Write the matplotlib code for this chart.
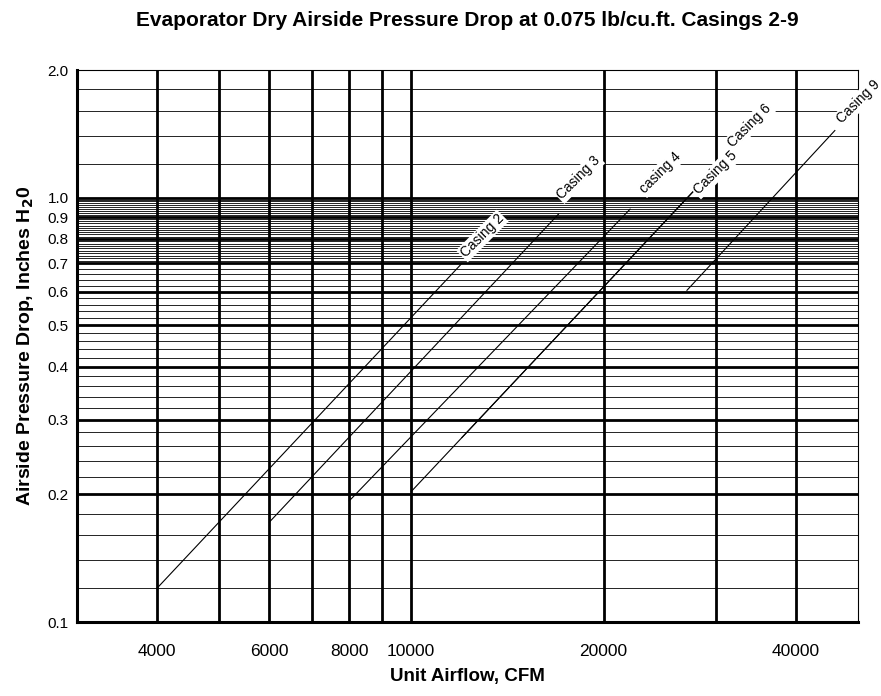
import numpy as np
import matplotlib
matplotlib.use("Agg")
import matplotlib.pyplot as plt

plt.rcParams["font.family"] = ["Liberation Sans", "DejaVu Sans"]

# casing lines: start / end airflow (CFM) and pressure drop (in. H2O)
casings = ["Casing 2", "Casing 3", "casing 4", "Casing 5", "Casing 6", "Casing 9"]
cfm_start = [4000, 6000, 8000, 10000, 12000, 27000]
cfm_end = [12000, 17000, 22000, 27700, 30000, 46000]
dp_start = [0.12, 0.172, 0.193, 0.203, 0.272, 0.605]
dp_end = [0.70, 0.915, 0.94, 1.04, 1.18, 1.44]

x_ticks = [4000, 6000, 8000, 10000, 20000, 40000]
x_grid = [4000, 5000, 6000, 7000, 8000, 9000, 10000, 20000, 30000, 40000]
y_ticks = [0.1, 0.2, 0.3, 0.4, 0.5, 0.6, 0.7, 0.8, 0.9, 1.0, 2.0]

fig = plt.figure(figsize=(8.81, 6.96), dpi=100)
ax = fig.add_axes([77 / 881, 74 / 696, 781 / 881, 552 / 696])
ax.set_xscale("log")
ax.set_yscale("log")
ax.set_xlim(3000, 50000)
ax.set_ylim(0.1, 2.0)

# grid: thin lines, heavy lines on the labelled values
thin = list(np.arange(0.12, 0.7, 0.02)) + list(np.arange(0.71, 1.0, 0.01)) + [1.2, 1.4, 1.6, 1.8]
for v in thin:
    if any(abs(v - t) < 1e-6 for t in y_ticks):
        continue
    ax.axhline(v, color="black", lw=0.6, zorder=1)
for v in y_ticks[1:-1]:
    ax.axhline(v, color="black", lw=2.0, zorder=1)
for v in x_grid:
    ax.axvline(v, color="black", lw=2.0, zorder=1)

for i in range(len(casings)):
    ax.plot([cfm_start[i], cfm_end[i]], [dp_start[i], dp_end[i]], color="black", lw=0.8, zorder=2)

# label offsets in pixels from the line end
offs = [(1, 8), (1, 17), (12, 18), (2, -2), (14, 22), (4, 9)]
for i in range(len(casings)):
    ax.annotate(casings[i], (cfm_end[i], dp_end[i]),
                xytext=(offs[i][0] * 0.72, offs[i][1] * 0.72), textcoords="offset points",
                rotation=45, rotation_mode="anchor", ha="left", va="center",
                fontsize=10, zorder=4 if casings[i] == "Casing 5" else 3, annotation_clip=False,
                bbox=dict(boxstyle="square,pad=0.1", fc="white", ec="none"))

ax.xaxis.set_major_locator(matplotlib.ticker.FixedLocator(x_ticks))
ax.xaxis.set_minor_locator(matplotlib.ticker.NullLocator())
ax.set_xticklabels([str(v) for v in x_ticks])
ax.yaxis.set_major_locator(matplotlib.ticker.FixedLocator(y_ticks))
ax.yaxis.set_minor_locator(matplotlib.ticker.NullLocator())
ax.set_yticklabels(["%.1f" % v for v in y_ticks])
ax.tick_params(axis="x", length=0, labelsize=12.5, pad=16)
ax.tick_params(axis="y", length=0, labelsize=11, pad=6)

for s in ["left", "bottom"]:
    ax.spines[s].set_linewidth(2.2)
for s in ["top", "right"]:
    ax.spines[s].set_linewidth(0.8)

ax.set_title("Evaporator Dry Airside Pressure Drop at 0.075 lb/cu.ft. Casings 2-9",
             fontsize=15, fontweight="bold", pad=32)
ax.set_xlabel("Unit Airflow, CFM", fontsize=13.5, fontweight="bold", labelpad=6)
ax.set_ylabel("Airside Pressure Drop, Inches H$_\\mathbf{2}$0", fontsize=14, fontweight="bold", labelpad=8)

fig.savefig("out.png", dpi=100)
